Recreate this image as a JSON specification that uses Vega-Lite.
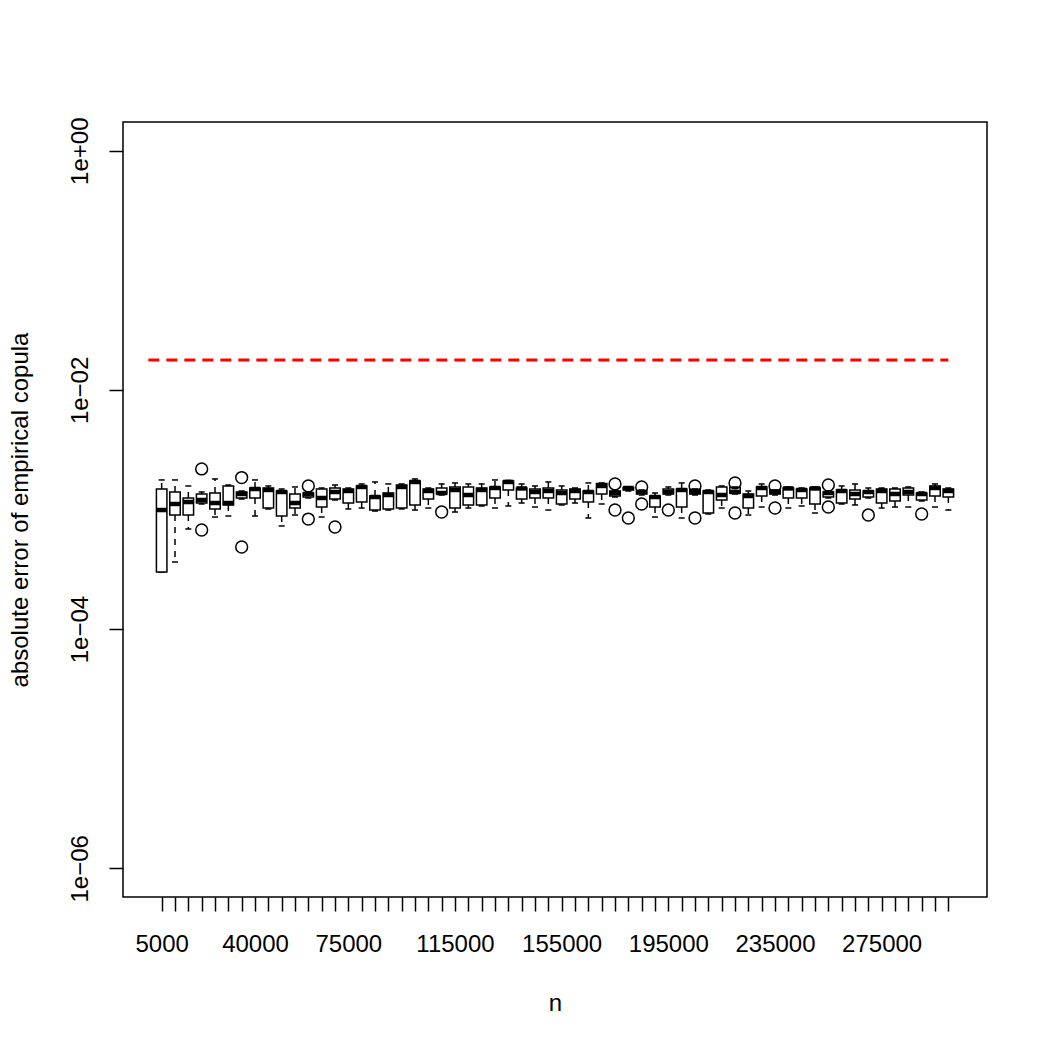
{
  "$schema": "https://vega.github.io/schema/vega-lite/v6.json",
  "width": 864,
  "height": 775,
  "autosize": {"type": "none"},
  "padding": {"left": 123, "top": 122, "right": 63, "bottom": 153},
  "background": "white",
  "config": {
    "view": {"stroke": "black", "strokeWidth": 1.5},
    "font": "Liberation Sans",
    "axis": {
      "labelFont": "Liberation Sans",
      "labelFontSize": 24,
      "labelColor": "black",
      "labelOverlap": false,
      "labelFlush": false,
      "tickSize": 14,
      "tickWidth": 1.5,
      "tickColor": "black",
      "domain": false,
      "grid": false,
      "titleFont": "Liberation Sans",
      "titleFontSize": 24,
      "titleFontWeight": "normal",
      "titleColor": "black"
    }
  },
  "datasets": {
    "bound": [{"n": 0, "v": 0.0178}, {"n": 300000, "v": 0.0178}],
    "boxes": [
      {"n": 5000, "lo": 0.000300, "q1": 0.000300, "med": 0.000990, "q3": 0.001484, "hi": 0.001766},
      {"n": 10000, "lo": 0.000364, "q1": 0.000899, "med": 0.001112, "q3": 0.001401, "hi": 0.001766},
      {"n": 15000, "lo": 0.000687, "q1": 0.000899, "med": 0.001155, "q3": 0.001248, "hi": 0.001573},
      {"n": 20000, "lo": 0.001112, "q1": 0.001133, "med": 0.001201, "q3": 0.001348, "hi": 0.001401},
      {"n": 25000, "lo": 0.000865, "q1": 0.001010, "med": 0.001133, "q3": 0.001374, "hi": 0.001800},
      {"n": 30000, "lo": 0.000882, "q1": 0.001091, "med": 0.001133, "q3": 0.001573, "hi": 0.001603},
      {"n": 35000, "lo": 0.001224, "q1": 0.001248, "med": 0.001348, "q3": 0.001401, "hi": 0.001428},
      {"n": 40000, "lo": 0.000882, "q1": 0.001248, "med": 0.001484, "q3": 0.001513, "hi": 0.001766},
      {"n": 45000, "lo": 0.001010, "q1": 0.001029, "med": 0.001456, "q3": 0.001513, "hi": 0.001573},
      {"n": 50000, "lo": 0.000728, "q1": 0.000882, "med": 0.001401, "q3": 0.001428, "hi": 0.001484},
      {"n": 55000, "lo": 0.000899, "q1": 0.001029, "med": 0.001133, "q3": 0.001348, "hi": 0.001543},
      {"n": 60000, "lo": 0.001248, "q1": 0.001272, "med": 0.001348, "q3": 0.001374, "hi": 0.001401},
      {"n": 65000, "lo": 0.000865, "q1": 0.001049, "med": 0.001248, "q3": 0.001484, "hi": 0.001513},
      {"n": 70000, "lo": 0.001201, "q1": 0.001224, "med": 0.001401, "q3": 0.001513, "hi": 0.001603},
      {"n": 75000, "lo": 0.001010, "q1": 0.001133, "med": 0.001428, "q3": 0.001484, "hi": 0.001513},
      {"n": 80000, "lo": 0.001029, "q1": 0.001155, "med": 0.001543, "q3": 0.001573, "hi": 0.001635},
      {"n": 85000, "lo": 0.000971, "q1": 0.000990, "med": 0.001272, "q3": 0.001297, "hi": 0.001699},
      {"n": 90000, "lo": 0.000990, "q1": 0.001010, "med": 0.001322, "q3": 0.001374, "hi": 0.001635},
      {"n": 95000, "lo": 0.001010, "q1": 0.001029, "med": 0.001543, "q3": 0.001603, "hi": 0.001635},
      {"n": 100000, "lo": 0.000990, "q1": 0.001091, "med": 0.001699, "q3": 0.001732, "hi": 0.001800},
      {"n": 105000, "lo": 0.001029, "q1": 0.001224, "med": 0.001428, "q3": 0.001484, "hi": 0.001513},
      {"n": 110000, "lo": 0.001322, "q1": 0.001348, "med": 0.001374, "q3": 0.001513, "hi": 0.001635},
      {"n": 115000, "lo": 0.000953, "q1": 0.001029, "med": 0.001456, "q3": 0.001543, "hi": 0.001667},
      {"n": 120000, "lo": 0.001029, "q1": 0.001091, "med": 0.001322, "q3": 0.001543, "hi": 0.001635},
      {"n": 125000, "lo": 0.001070, "q1": 0.001091, "med": 0.001456, "q3": 0.001513, "hi": 0.001635},
      {"n": 130000, "lo": 0.001029, "q1": 0.001248, "med": 0.001513, "q3": 0.001543, "hi": 0.001766},
      {"n": 135000, "lo": 0.001070, "q1": 0.001456, "med": 0.001699, "q3": 0.001732, "hi": 0.001750},
      {"n": 140000, "lo": 0.001133, "q1": 0.001224, "med": 0.001500, "q3": 0.001513, "hi": 0.001635},
      {"n": 145000, "lo": 0.001049, "q1": 0.001248, "med": 0.001401, "q3": 0.001484, "hi": 0.001573},
      {"n": 150000, "lo": 0.000990, "q1": 0.001248, "med": 0.001428, "q3": 0.001513, "hi": 0.001699},
      {"n": 155000, "lo": 0.001091, "q1": 0.001112, "med": 0.001374, "q3": 0.001456, "hi": 0.001573},
      {"n": 160000, "lo": 0.001133, "q1": 0.001224, "med": 0.001428, "q3": 0.001484, "hi": 0.001513},
      {"n": 165000, "lo": 0.000849, "q1": 0.001155, "med": 0.001401, "q3": 0.001428, "hi": 0.001667},
      {"n": 170000, "lo": 0.001112, "q1": 0.001348, "med": 0.001573, "q3": 0.001650, "hi": 0.001667},
      {"n": 175000, "lo": 0.001272, "q1": 0.001297, "med": 0.001374, "q3": 0.001428, "hi": 0.001456},
      {"n": 180000, "lo": 0.001428, "q1": 0.001456, "med": 0.001513, "q3": 0.001530, "hi": 0.001543},
      {"n": 185000, "lo": 0.001322, "q1": 0.001348, "med": 0.001401, "q3": 0.001428, "hi": 0.001456},
      {"n": 190000, "lo": 0.000865, "q1": 0.001049, "med": 0.001272, "q3": 0.001297, "hi": 0.001374},
      {"n": 195000, "lo": 0.001322, "q1": 0.001348, "med": 0.001401, "q3": 0.001484, "hi": 0.001543},
      {"n": 200000, "lo": 0.000849, "q1": 0.001049, "med": 0.001456, "q3": 0.001484, "hi": 0.001667},
      {"n": 205000, "lo": 0.001322, "q1": 0.001348, "med": 0.001401, "q3": 0.001480, "hi": 0.001484},
      {"n": 210000, "lo": 0.000917, "q1": 0.000935, "med": 0.001401, "q3": 0.001428, "hi": 0.001456},
      {"n": 215000, "lo": 0.001029, "q1": 0.001201, "med": 0.001322, "q3": 0.001543, "hi": 0.001573},
      {"n": 220000, "lo": 0.001348, "q1": 0.001374, "med": 0.001401, "q3": 0.001530, "hi": 0.001543},
      {"n": 225000, "lo": 0.000899, "q1": 0.001029, "med": 0.001297, "q3": 0.001348, "hi": 0.001428},
      {"n": 230000, "lo": 0.001049, "q1": 0.001297, "med": 0.001513, "q3": 0.001543, "hi": 0.001635},
      {"n": 235000, "lo": 0.001322, "q1": 0.001348, "med": 0.001401, "q3": 0.001450, "hi": 0.001456},
      {"n": 240000, "lo": 0.001029, "q1": 0.001248, "med": 0.001500, "q3": 0.001513, "hi": 0.001543},
      {"n": 245000, "lo": 0.001070, "q1": 0.001248, "med": 0.001456, "q3": 0.001484, "hi": 0.001513},
      {"n": 250000, "lo": 0.000935, "q1": 0.001112, "med": 0.001500, "q3": 0.001513, "hi": 0.001543},
      {"n": 255000, "lo": 0.001248, "q1": 0.001272, "med": 0.001374, "q3": 0.001401, "hi": 0.001428},
      {"n": 260000, "lo": 0.001112, "q1": 0.001133, "med": 0.001428, "q3": 0.001456, "hi": 0.001573},
      {"n": 265000, "lo": 0.001091, "q1": 0.001224, "med": 0.001348, "q3": 0.001456, "hi": 0.001635},
      {"n": 270000, "lo": 0.001248, "q1": 0.001272, "med": 0.001401, "q3": 0.001428, "hi": 0.001513},
      {"n": 275000, "lo": 0.001029, "q1": 0.001133, "med": 0.001428, "q3": 0.001484, "hi": 0.001513},
      {"n": 280000, "lo": 0.001049, "q1": 0.001178, "med": 0.001348, "q3": 0.001484, "hi": 0.001513},
      {"n": 285000, "lo": 0.001049, "q1": 0.001322, "med": 0.001401, "q3": 0.001513, "hi": 0.001543},
      {"n": 290000, "lo": 0.001178, "q1": 0.001201, "med": 0.001348, "q3": 0.001374, "hi": 0.001401},
      {"n": 295000, "lo": 0.001049, "q1": 0.001297, "med": 0.001513, "q3": 0.001573, "hi": 0.001635},
      {"n": 300000, "lo": 0.000990, "q1": 0.001272, "med": 0.001428, "q3": 0.001484, "hi": 0.001513}
    ],
    "outliers": [
      {"n": 20000, "v": 0.002183}, {"n": 20000, "v": 0.000674},
      {"n": 35000, "v": 0.001850}, {"n": 35000, "v": 0.000486},
      {"n": 60000, "v": 0.001573}, {"n": 60000, "v": 0.000832},
      {"n": 70000, "v": 0.000714},
      {"n": 110000, "v": 0.000953},
      {"n": 175000, "v": 0.001635}, {"n": 175000, "v": 0.000990},
      {"n": 180000, "v": 0.000849},
      {"n": 185000, "v": 0.001543}, {"n": 185000, "v": 0.001112},
      {"n": 195000, "v": 0.000990},
      {"n": 205000, "v": 0.001573}, {"n": 205000, "v": 0.000849},
      {"n": 220000, "v": 0.001667}, {"n": 220000, "v": 0.000935},
      {"n": 235000, "v": 0.001573}, {"n": 235000, "v": 0.001029},
      {"n": 255000, "v": 0.001603}, {"n": 255000, "v": 0.001049},
      {"n": 270000, "v": 0.000899},
      {"n": 290000, "v": 0.000917}
    ]
  },
  "encoding": {
    "x": {
      "field": "n", "type": "quantitative",
      "scale": {"type": "linear", "domain": [-9500, 314500], "nice": false, "zero": false, "padding": 0},
      "axis": {
        "values": [5000,10000,15000,20000,25000,30000,35000,40000,45000,50000,55000,60000,65000,70000,75000,80000,85000,90000,95000,100000,105000,110000,115000,120000,125000,130000,135000,140000,145000,150000,155000,160000,165000,170000,175000,180000,185000,190000,195000,200000,205000,210000,215000,220000,225000,230000,235000,240000,245000,250000,255000,260000,265000,270000,275000,280000,285000,290000,295000,300000],
        "labelExpr": "indexof([5000,40000,75000,115000,155000,195000,235000,275000], datum.value) >= 0 ? format(datum.value, 'd') : ''",
        "labelPadding": 21,
        "title": "n",
        "titleX": 432,
        "titleY": 113,
        "titleBaseline": "alphabetic"
      }
    }
  },
  "layer": [
    {
      "data": {"name": "boxes"},
      "mark": {"type": "rule", "color": "black", "strokeWidth": 1.5, "strokeDash": [6, 6]},
      "encoding": {
        "y": {
          "field": "q3", "type": "quantitative",
          "scale": {"type": "log", "domain": [5.754e-7, 1.7378], "nice": false, "padding": 0},
          "axis": {"values": [0.000001, 0.0001, 0.01, 1], "labelExpr": "datum.value >= 0.5 ? '1e+00' : datum.value >= 0.005 ? '1e−02' : datum.value >= 0.00005 ? '1e−04' : '1e−06'", "labelAngle": -90, "labelAlign": "center", "labelBaseline": "bottom", "labelPadding": 17, "title": "absolute error of empirical copula", "titleAngle": -90, "titleX": -91, "titleY": 387.5, "titleAlign": "center", "titleBaseline": "bottom"}
        },
        "y2": {"field": "hi"}
      }
    },
    {
      "data": {"name": "boxes"},
      "mark": {"type": "rule", "color": "black", "strokeWidth": 1.5, "strokeDash": [6, 6]},
      "encoding": {
        "y": {
          "field": "q1", "type": "quantitative",
          "scale": {"type": "log", "domain": [5.754e-7, 1.7378], "nice": false, "padding": 0},
          "axis": {"values": [0.000001, 0.0001, 0.01, 1], "labelExpr": "datum.value >= 0.5 ? '1e+00' : datum.value >= 0.005 ? '1e−02' : datum.value >= 0.00005 ? '1e−04' : '1e−06'", "labelAngle": -90, "labelAlign": "center", "labelBaseline": "bottom", "labelPadding": 17, "title": "absolute error of empirical copula", "titleAngle": -90, "titleX": -91, "titleY": 387.5, "titleAlign": "center", "titleBaseline": "bottom"}
        },
        "y2": {"field": "lo"}
      }
    },
    {
      "data": {"name": "boxes"},
      "mark": {"type": "tick", "orient": "horizontal", "color": "black", "opacity": 1, "size": 6, "thickness": 1.5},
      "encoding": {
        "y": {
          "field": "hi", "type": "quantitative",
          "scale": {"type": "log", "domain": [5.754e-7, 1.7378], "nice": false, "padding": 0},
          "axis": {"values": [0.000001, 0.0001, 0.01, 1], "labelExpr": "datum.value >= 0.5 ? '1e+00' : datum.value >= 0.005 ? '1e−02' : datum.value >= 0.00005 ? '1e−04' : '1e−06'", "labelAngle": -90, "labelAlign": "center", "labelBaseline": "bottom", "labelPadding": 17, "title": "absolute error of empirical copula", "titleAngle": -90, "titleX": -91, "titleY": 387.5, "titleAlign": "center", "titleBaseline": "bottom"}
        }
      }
    },
    {
      "data": {"name": "boxes"},
      "mark": {"type": "tick", "orient": "horizontal", "color": "black", "opacity": 1, "size": 6, "thickness": 1.5},
      "encoding": {
        "y": {
          "field": "lo", "type": "quantitative",
          "scale": {"type": "log", "domain": [5.754e-7, 1.7378], "nice": false, "padding": 0},
          "axis": {"values": [0.000001, 0.0001, 0.01, 1], "labelExpr": "datum.value >= 0.5 ? '1e+00' : datum.value >= 0.005 ? '1e−02' : datum.value >= 0.00005 ? '1e−04' : '1e−06'", "labelAngle": -90, "labelAlign": "center", "labelBaseline": "bottom", "labelPadding": 17, "title": "absolute error of empirical copula", "titleAngle": -90, "titleX": -91, "titleY": 387.5, "titleAlign": "center", "titleBaseline": "bottom"}
        }
      }
    },
    {
      "data": {"name": "boxes"},
      "mark": {"type": "bar", "orient": "vertical", "size": 10.5, "fill": "white", "stroke": "black", "strokeWidth": 1.5, "opacity": 1},
      "encoding": {
        "y": {
          "field": "q1", "type": "quantitative",
          "scale": {"type": "log", "domain": [5.754e-7, 1.7378], "nice": false, "padding": 0},
          "axis": {"values": [0.000001, 0.0001, 0.01, 1], "labelExpr": "datum.value >= 0.5 ? '1e+00' : datum.value >= 0.005 ? '1e−02' : datum.value >= 0.00005 ? '1e−04' : '1e−06'", "labelAngle": -90, "labelAlign": "center", "labelBaseline": "bottom", "labelPadding": 17, "title": "absolute error of empirical copula", "titleAngle": -90, "titleX": -91, "titleY": 387.5, "titleAlign": "center", "titleBaseline": "bottom"}
        },
        "y2": {"field": "q3"}
      }
    },
    {
      "data": {"name": "boxes"},
      "mark": {"type": "tick", "orient": "horizontal", "color": "black", "opacity": 1, "size": 10.5, "thickness": 4.5},
      "encoding": {
        "y": {
          "field": "med", "type": "quantitative",
          "scale": {"type": "log", "domain": [5.754e-7, 1.7378], "nice": false, "padding": 0},
          "axis": {"values": [0.000001, 0.0001, 0.01, 1], "labelExpr": "datum.value >= 0.5 ? '1e+00' : datum.value >= 0.005 ? '1e−02' : datum.value >= 0.00005 ? '1e−04' : '1e−06'", "labelAngle": -90, "labelAlign": "center", "labelBaseline": "bottom", "labelPadding": 17, "title": "absolute error of empirical copula", "titleAngle": -90, "titleX": -91, "titleY": 387.5, "titleAlign": "center", "titleBaseline": "bottom"}
        }
      }
    },
    {
      "data": {"name": "outliers"},
      "mark": {"type": "point", "shape": "circle", "filled": false, "color": "black", "size": 140, "strokeWidth": 1.5, "opacity": 1},
      "encoding": {
        "y": {
          "field": "v", "type": "quantitative",
          "scale": {"type": "log", "domain": [5.754e-7, 1.7378], "nice": false, "padding": 0},
          "axis": {"values": [0.000001, 0.0001, 0.01, 1], "labelExpr": "datum.value >= 0.5 ? '1e+00' : datum.value >= 0.005 ? '1e−02' : datum.value >= 0.00005 ? '1e−04' : '1e−06'", "labelAngle": -90, "labelAlign": "center", "labelBaseline": "bottom", "labelPadding": 17, "title": "absolute error of empirical copula", "titleAngle": -90, "titleX": -91, "titleY": 387.5, "titleAlign": "center", "titleBaseline": "bottom"}
        }
      }
    },
    {
      "data": {"name": "bound"},
      "mark": {"type": "line", "color": "#FF0000", "strokeWidth": 3, "strokeDash": [11, 7]},
      "encoding": {
        "y": {
          "field": "v", "type": "quantitative",
          "scale": {"type": "log", "domain": [5.754e-7, 1.7378], "nice": false, "padding": 0},
          "axis": {"values": [0.000001, 0.0001, 0.01, 1], "labelExpr": "datum.value >= 0.5 ? '1e+00' : datum.value >= 0.005 ? '1e−02' : datum.value >= 0.00005 ? '1e−04' : '1e−06'", "labelAngle": -90, "labelAlign": "center", "labelBaseline": "bottom", "labelPadding": 17, "title": "absolute error of empirical copula", "titleAngle": -90, "titleX": -91, "titleY": 387.5, "titleAlign": "center", "titleBaseline": "bottom"}
        }
      }
    }
  ]
}
